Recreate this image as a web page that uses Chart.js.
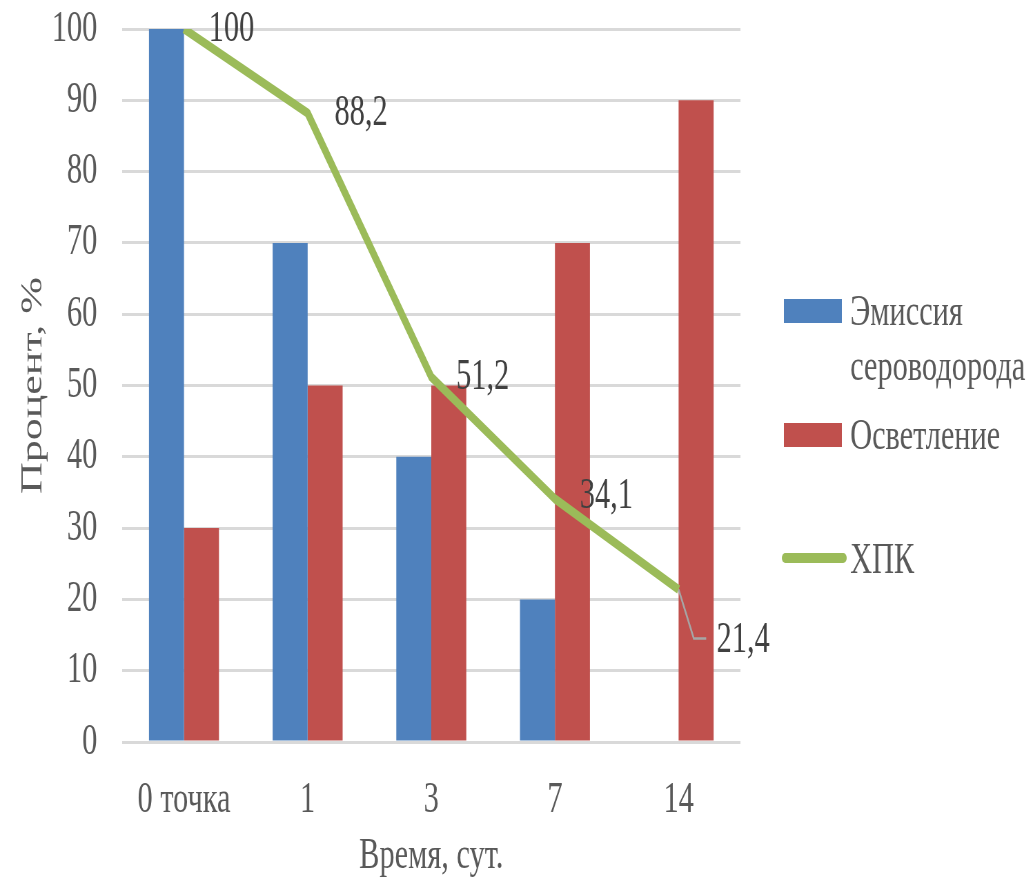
<!DOCTYPE html>
<html>
<head>
<meta charset="utf-8">
<script src="https://cdn.jsdelivr.net/npm/chart.js@4"></script>
<style>
  body { margin: 0; background: #fff; }
</style>
</head>
<body>
<!-- drawn wide, then shown squeezed to 1033px like the source picture -->
<canvas id="chart" width="1497" height="881" style="width:1033px;height:881px;display:block"></canvas>
<script>
var categories = ['0 точка', '1', '3', '7', '14'];
var emission = [100, 70, 40, 20, 0];
var clarification = [30, 50, 50, 70, 90];
var cod = [100, 88.2, 51.2, 34.1, 21.4];
var seriesNames = ['Эмиссия сероводорода', 'Осветление', 'ХПК'];
var xTitle = 'Время, сут.';
var yTitle = 'Процент, %';
var yMin = 0, yMax = 100, yStep = 10;

var serif = "'Liberation Serif', 'Times New Roman', serif";
var font = {family: serif, size: 44, lineHeight: 1};
var textGray = '#595959';

// where each ХПК label sits relative to its point (last one has a leader line)
var labelSpots = [[36, 0], [39, 0], [36, 0], [36, -2], [55, 51]];

var pointLabels = {
  id: 'pointLabels',
  afterDatasetsDraw: function(chart) {
    var meta = chart.getDatasetMeta(2);
    var c = chart.ctx;
    c.save();
    c.font = '44px ' + serif;
    c.fillStyle = '#404040';
    c.textBaseline = 'middle';
    c.textAlign = 'left';
    meta.data.forEach(function(pt, i) {
      var dx = labelSpots[i][0], dy = labelSpots[i][1];
      if (dy > 20) {
        c.strokeStyle = '#a6a6a6';
        c.lineWidth = 2.5;
        c.beginPath();
        c.moveTo(pt.x, pt.y);
        c.lineTo(pt.x + 22, pt.y + dy - 2);
        c.lineTo(pt.x + 40, pt.y + dy - 2);
        c.stroke();
      }
      c.fillText(String(cod[i]).replace('.', ','), pt.x + dx, pt.y + dy);
    });
    c.restore();
  }
};

var sideLegend = {
  id: 'sideLegend',
  afterDraw: function(chart) {
    var c = chart.ctx;
    var boxX = 1136, boxW = 84, boxH = 24, textX = 1232;
    var centers = [311, 435, 559];
    var maxW = chart.width - textX - 4;
    c.save();
    c.font = '44px ' + serif;
    c.textBaseline = 'middle';
    c.textAlign = 'left';
    chart.data.datasets.forEach(function(ds, i) {
      var y = centers[i];
      if (ds.type === 'line') {
        c.strokeStyle = ds.borderColor;
        c.lineWidth = 10;
        c.lineCap = 'round';
        c.beginPath();
        c.moveTo(boxX + 2, y - 1);
        c.lineTo(boxX + boxW + 2, y - 1);
        c.stroke();
      } else {
        c.fillStyle = ds.backgroundColor;
        c.fillRect(boxX, y - boxH / 2, boxW, boxH);
      }
      // simple word wrap
      var words = ds.label.split(' ');
      var lines = [], cur = '';
      words.forEach(function(w) {
        var t = cur ? cur + ' ' + w : w;
        if (cur && c.measureText(t).width > maxW) { lines.push(cur); cur = w; }
        else cur = t;
      });
      lines.push(cur);
      c.fillStyle = textGray;
      lines.forEach(function(l, k) {
        c.fillText(l, textX, y + 2 + k * 55);
      });
    });
    c.restore();
  }
};

var ctx = document.getElementById('chart');
var config = {
  type: 'bar',
  data: {
    labels: categories,
    datasets: [{
      label: seriesNames[0],
      data: emission,
      backgroundColor: '#4f81bd',
      borderWidth: 0,
      categoryPercentage: 0.566,
      barPercentage: 1,
      order: 1
    },
    {
      label: seriesNames[1],
      data: clarification,
      backgroundColor: '#c0504d',
      borderWidth: 0,
      categoryPercentage: 0.566,
      barPercentage: 1,
      order: 1
    },
    {
      type: 'line',
      label: seriesNames[2],
      data: cod,
      borderColor: '#9bbb59',
      backgroundColor: '#9bbb59',
      borderWidth: 9,
      borderJoinStyle: 'round',
      pointRadius: 0,
      tension: 0,
      fill: false,
      order: 0
    }]
  },
  options: {
    responsive: false,
    devicePixelRatio: 1,
    animation: false,
    layout: {padding: {top: 29, right: 424, bottom: 0, left: 0}},
    plugins: {legend: {display: false}, tooltip: {enabled: false}},
    scales: {
      x: {
        grid: {display: false},
        border: {display: false},
        ticks: {font: font, color: textGray, padding: 28, maxRotation: 0, autoSkip: false},
        title: {display: true, text: xTitle, font: font, color: textGray, padding: {top: 0, bottom: 3}},
        afterFit: function(s) { s.height = 139; s.paddingLeft = 0; s.paddingRight = 0; }
      },
      y: {
        min: yMin,
        max: yMax,
        ticks: {stepSize: yStep, padding: 36, font: font, color: textGray},
        grid: {color: '#d9d9d9', lineWidth: 3, drawTicks: false},
        border: {display: false},
        title: {display: true, text: yTitle, font: font, color: textGray, padding: {top: 26, bottom: 0}},
        afterFit: function(s) { s.width = 177; s.paddingTop = 0; s.paddingBottom = 0; }
      }
    }
  },
  plugins: [pointLabels, sideLegend]
};

var chart = new Chart(ctx, config);
</script>
</body>
</html>
